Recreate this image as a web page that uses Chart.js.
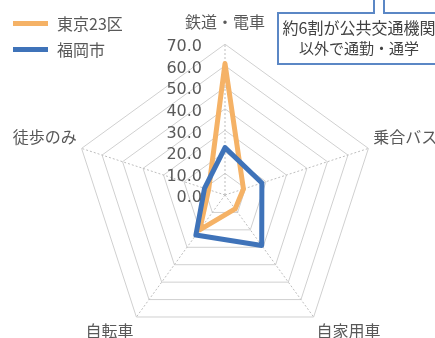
<!DOCTYPE html>
<html>
<head>
<meta charset="utf-8">
<script src="https://cdn.jsdelivr.net/npm/chart.js@4.4.0/dist/chart.umd.min.js"></script>
<style>
  html, body {
    margin: 0;
    padding: 0;
    background: #fff;
  }
  body {
    position: relative;
    width: 435px;
    height: 338px;
    overflow: hidden;
    font-family: "Noto Sans CJK JP", sans-serif;
    color: #595959;
  }
  /* キャンバスは少し大きめにして、はみ出した分は切る */
  #wrap {
    position: absolute;
    left: 0;
    top: -4px;
    width: 450px;
    height: 366px;
  }
  #legend .item {
    position: absolute;
    left: 13px;
    height: 20px;
    font-size: 16px;
    line-height: 20px;
  }
  #legend .swatch {
    position: absolute;
    left: 0;
    top: 8px;
    width: 35px;
    height: 5px;
  }
  #legend .label {
    position: absolute;
    left: 44px;
    top: 0;
    white-space: nowrap;
  }
  #note {
    position: absolute;
    left: 277px;
    top: 12px;
    width: 160px;
    height: 46px;
    border: 2px solid #5b87c5;
    background: #fff;
    box-sizing: content-box;
    text-align: center;
    font-size: 15px;
    line-height: 20px;
    padding-top: 3px;
    color: #404040;
  }
  #note .l1 { font-size: 16px; }
  #tail {
    position: absolute;
    left: 373px;
    top: 0;
    width: 8px;
    height: 14px;
    border-left: 2px solid #5b87c5;
    border-right: 2px solid #5b87c5;
    background: #fff;
  }
</style>
</head>
<body>
<div id="wrap"><canvas id="chart"></canvas></div>
<div id="legend"></div>
<div id="note"><span class="l1">約6割が公共交通機関</span><br>以外で通勤・通学</div>
<div id="tail"></div>
<script>
// === データ ===
const categories = ["鉄道・電車", "乗合バス", "自家用車", "自転車", "徒歩のみ"];
const seriesNames = ["東京23区", "福岡市"];
const tokyo = [61, 9, 8, 20, 8];
const fukuoka = [22, 18, 29, 23, 10];
const tickValues = [0, 10, 20, 30, 40, 50, 60, 70];

const colors = ["#f5b266", "#3f73b9"];
const FONT = '"Noto Sans CJK JP", sans-serif';

// 凡例（HTML）
const legend = document.getElementById("legend");
seriesNames.forEach((name, i) => {
  const item = document.createElement("div");
  item.className = "item";
  item.style.top = (13 + i * 25.5) + "px";
  item.innerHTML =
    `<span class="swatch" style="background:${colors[i]}"></span>` +
    `<span class="label">${name}</span>`;
  legend.appendChild(item);
});

// 目盛りラベルは軸の左側に右寄せで描く
const tickText = {
  id: "tickText",
  afterDatasetsDraw(chart) {
    const s = chart.scales.r;
    const ctx = chart.ctx;
    ctx.save();
    ctx.font = '16px "DejaVu Sans", sans-serif';
    ctx.fillStyle = "#595959";
    ctx.textAlign = "right";
    ctx.textBaseline = "middle";
    tickValues.forEach((v) => {
      const d = s.getDistanceFromCenterForValue(v);
      ctx.fillText(v.toFixed(1), s.xCenter - 23, s.yCenter - d + 3);
    });
    ctx.restore();
  },
};

new Chart(document.getElementById("chart"), {
  type: "radar",
  data: {
    labels: categories,
    datasets: [
      {
        label: seriesNames[0],
        data: tokyo,
        borderColor: colors[0],
        borderWidth: 5,
        borderJoinStyle: "round",
        fill: false,
        pointRadius: 0,
        order: 1,
      },
      {
        label: seriesNames[1],
        data: fukuoka,
        borderColor: colors[1],
        borderWidth: 5,
        borderJoinStyle: "round",
        fill: false,
        pointRadius: 0,
        order: 0,
      },
    ],
  },
  options: {
    responsive: true,
    maintainAspectRatio: false,
    animation: false,
    plugins: {
      legend: { display: false },
      tooltip: { enabled: false },
    },
    elements: { line: { tension: 0 } },
    scales: {
      r: {
        min: 0,
        max: 70,
        ticks: { stepSize: 10, display: false },
        grid: { color: "#d0d0d0", lineWidth: 1 },
        angleLines: { color: "#bdbdbd", lineWidth: 1, borderDash: [2, 2] },
        pointLabels: {
          font: { family: FONT, size: 16 },
          color: "#595959",
          padding: (ctx) => (ctx.index === 0 ? 13 : 5),
        },
      },
    },
  },
  plugins: [tickText],
});
</script>
</body>
</html>
